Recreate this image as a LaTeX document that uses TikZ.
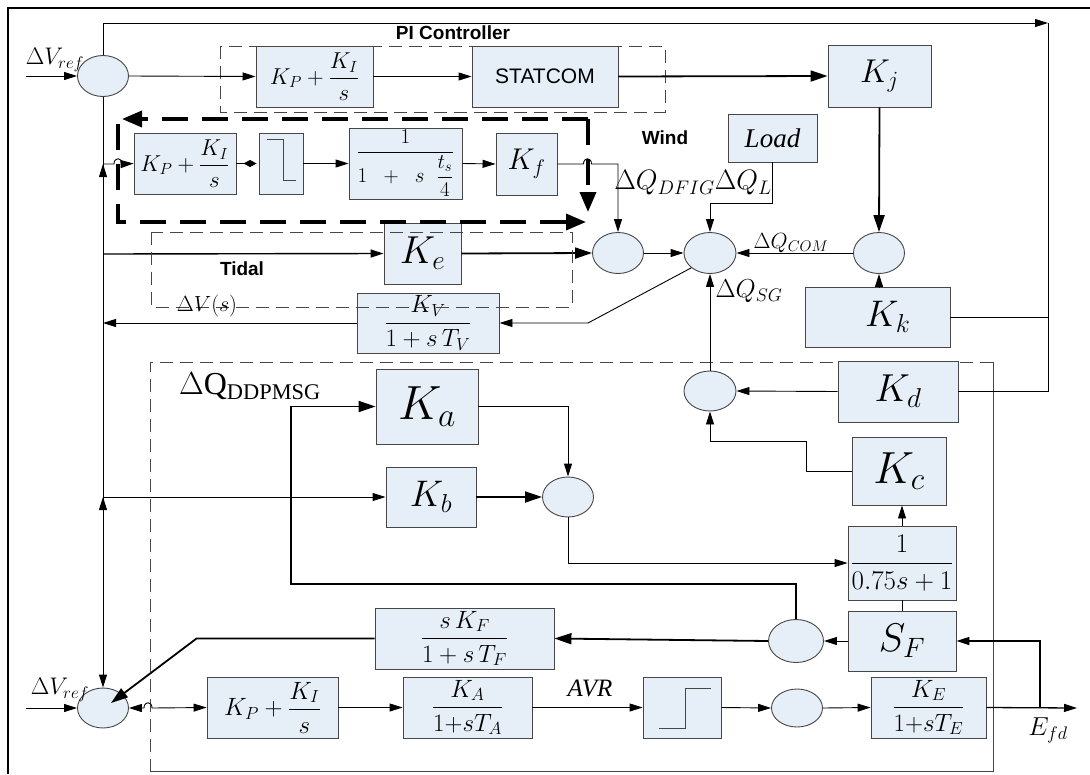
\RequirePackage{fix-cm}
\documentclass[tikz,border=0pt]{standalone}
\usepackage{amsmath}
\usepackage{fontspec}
\setmainfont{Liberation Serif}
\setsansfont{Liberation Sans}
\usetikzlibrary{arrows.meta,calc,shapes.geometric}
\definecolor{boxfill}{RGB}{230,238,247}
\definecolor{edge}{RGB}{70,70,70}
\newcommand\setfs[1]{\fontsize{#1}{#1}\selectfont}

\begin{document}
\begin{tikzpicture}[x=1pt,y=-1pt,
  blk/.style={draw=edge, fill=boxfill, line width=0.9pt, inner sep=0pt},
  sumc/.style={ellipse, draw=edge, fill=boxfill, line width=0.9pt,
    minimum width=51pt, minimum height=41pt, inner sep=0pt},
  arr/.style={-{Triangle[length=13pt,width=8pt]}, line width=0.9pt},
  tarr/.style={-{Triangle[length=17pt,width=11pt]}, line width=1.8pt},
  grpdash/.style={draw=edge, line width=0.9pt, dash pattern=on 13pt off 7pt},
  winddash/.style={line width=3.5pt, dash pattern=on 26pt off 14pt,
    -{Triangle[length=20pt,width=16pt]}},
  lbl/.style={inner sep=0pt},
  grplbl/.style={inner sep=0pt, font=\sffamily\bfseries\setfs{19}}]
  \useasboundingbox (0,0) rectangle (1090,774);
  \draw[line width=2.5pt] (8,774) -- (8,8) -- (1090,8);

  % PI controller / STATCOM row
  \draw[grpdash] (220,46) rectangle (665,112);
  \node[grplbl] (pilbl) at (453,33) {PI Controller};
  \node[sumc] (sumA) at (103,76) {};
  \node[lbl, font=\setfs{24}] (vrefA) at (55,60) {$\Delta V_{ref}$};
  \node[blk, minimum width=117pt, minimum height=61pt, font=\setfs{23}] (piA) at (314.5,76.5) {$K_P+\dfrac{K_I}{s}$};
  \node[blk, minimum width=146pt, minimum height=61pt, font=\sffamily\setfs{21}] (statcom) at (545,76.5) {STATCOM};
  \node[blk, minimum width=103pt, minimum height=62pt, font=\setfs{33}] (kj) at (879.5,76) {$K_j$};
  \coordinate (inA) at (26,76);
  \coordinate (railTR) at (1048,23);
  \draw[arr] (inA) -- (sumA.west);
  \draw[arr] (sumA.east) -- (piA.west);
  \draw[arr] (piA.east) -- (statcom.west);
  \draw[tarr] (statcom.east) -- (kj.west);
  \draw[arr] (sumA.north) |- (railTR);

  % wind branch
  \node[blk, minimum width=102pt, minimum height=61pt, font=\setfs{23}] (piW) at (185,163.5) {$K_P+\dfrac{K_I}{s}$};
  \node[blk, minimum width=44pt, minimum height=61pt] (stepW) at (281,163.5) {};
  \draw[line width=0.9pt, edge, shift={(stepW.center)}] (-14,-24) -- (2,-24) -- (2,17) -- (15,17);
  \node[blk, minimum width=113pt, minimum height=71pt, font=\setfs{21}] (lagW) at (405.5,163.5) {$\dfrac{1}{1\;\;+\;\;s\;\;\dfrac{t_s}{4}}$};
  \node[blk, minimum width=61pt, minimum height=62pt, font=\setfs{30}] (kf) at (526.5,164) {$K_f$};
  \node[grplbl] (windlbl) at (665,138) {Wind};
  \node[blk, minimum width=89pt, minimum height=48pt, font=\itshape\setfs{27}] (load) at (772.5,138) {Load};
  \draw[-{Diamond[length=13pt,width=7pt]}, line width=0.9pt, shorten >=2pt] (piW.east) -- (stepW.west);
  \draw[arr] (stepW.east) -- (lagW.west);
  \draw[arr] (lagW.east) -- (kf.west);

  % reactive power sums
  \node[sumc] (sumW) at (618,253) {};
  \node[sumc, minimum width=52pt] (sumQ) at (710,253) {};
  \node[sumc] (sumJ) at (879,253) {};
  \node[blk, minimum width=77pt, minimum height=61pt, font=\setfs{39}] (ke) at (422.5,253.5) {$K_e$};
  \node[blk, minimum width=142pt, minimum height=60pt, font=\setfs{25}] (kv) at (428,323) {$\dfrac{K_V}{1+s\,T_V}$};
  \node[blk, minimum width=145pt, minimum height=60pt, font=\setfs{37}] (kk) at (877.5,317) {$\;\;K_k$};
  \node[lbl, font=\setfs{28}] (dqdfig) at (693,183) {$\Delta Q_{DFIG}\Delta Q_L$};
  \node[lbl, font=\setfs{22}] (dqcom) at (791,243) {$\Delta Q_{COM}$};
  \node[lbl, font=\setfs{26}] (dqsg) at (749,291) {$\Delta Q_{SG}$};
  \coordinate (jW) at (103,164);
  \coordinate (jT) at (103,254);
  \coordinate (jV) at (103,323);
  \coordinate (jB) at (103,497);
  \draw[arr] (jW) -- (114,164) .. controls (114,157) and (122,157) .. (122,164) -- (piW.west);
  \draw[arr] (kf.east) -- (583.5,164) .. controls (583.5,157) and (591.5,157) .. (591.5,164) -- (618,164) -- (sumW.north);
  \draw[arr, line width=1.4pt] (jT) -- (ke.west);
  \draw[tarr] (ke.east) -- (sumW.west);
  \draw[arr] (sumW.east) -- (sumQ.west);
  \draw[arr] (load.south) -- ++(0,41) -| (sumQ.north);
  \draw[tarr] (kj.south) -- (sumJ.north);
  \draw[arr] (sumJ.west) -- (sumQ.east);
  \draw[arr] (kk.north -| sumJ.south) -- (sumJ.south);
  \draw[line width=0.9pt] (kk.east) -- (kk.east -| railTR);
  \draw[arr] (sumQ.south west) -- (588,323) -- (kv.east);
  \draw[arr] (kv.west) -- (jV);
  \draw[grpdash] (151,232) rectangle (572,307);
  \node[grplbl] (tidlbl) at (242,269) {Tidal};
  \node[lbl, font=\setfs{22}] (dvs) at (207,306) {$\Delta V(s)$};

  % DDPMSG block
  \draw[grpdash] (993,362) -- (150,362) -- (150,771);
  \draw[line width=0.9pt, edge] (993,362) -- (993,771) -- (150,771);
  \node[lbl, font=\setfs{32}] (dqdd) at (250,386) {$\Delta\mathrm{Q}_{\mathrm{DDPMSG}}$};
  \node[sumc, minimum width=52pt, minimum height=40pt] (sumD) at (710,391) {};
  \node[blk, minimum width=120pt, minimum height=61pt, font=\setfs{39}] (kd) at (898,391.5) {$K_d$};
  \node[blk, minimum width=102pt, minimum height=75pt, font=\setfs{48}] (ka) at (427,406.5) {$K_a$};
  \node[blk, minimum width=90pt, minimum height=60pt, font=\setfs{37}] (kb) at (431,497) {$K_b$};
  \node[sumc, minimum height=40pt] (sumB) at (568,497) {};
  \node[blk, minimum width=94pt, minimum height=68pt, font=\setfs{45}] (kc) at (899,471) {$K_c$};
  \node[blk, minimum width=108pt, minimum height=74pt, font=\setfs{27}] (lagC) at (902,563) {$\dfrac{1}{0.75s+1}$};
  \node[blk, minimum width=108pt, minimum height=60pt, font=\setfs{40}] (sf) at (902,641) {$S_F$};
  \node[sumc, minimum width=55pt, minimum height=43pt] (sumF) at (796,641) {};
  \node[blk, minimum width=179pt, minimum height=61pt, font=\setfs{25}] (skf) at (464.5,638.5) {$\dfrac{s\,K_F}{1+s\,T_F}$};
  \draw[arr] (kd.west) -- (sumD.east);
  \draw[line width=0.9pt] (kd.east) -| (railTR);
  \draw[arr] (sumD.north) -- (sumQ.south);
  \draw[arr] (kc.west) -| (806,441) -| (sumD.south);
  \draw[arr] (lagC.north) -- (lagC.north |- kc.south);
  \draw[line width=0.9pt] (sf.north) -- (lagC.south);
  \draw[arr] (sumB.south) |- (lagC.west);
  \draw[arr] (ka.east) -| (sumB.north);
  \draw[tarr] (kb.east) -- (sumB.west);
  \draw[arr] (jB) -- (kb.west);
  \draw[tarr] (sumF.north) |- (291,584) |- (ka.west);
  \draw[arr] (sf.west) -- (sumF.east);
  \draw[tarr] (sumF.west) -- (skf.east);

  % AVR loop
  \node[sumc, minimum height=40pt] (sumV) at (103,708) {};
  \node[lbl, font=\setfs{24}] (vrefB) at (60,690) {$\Delta V_{ref}$};
  \node[blk, minimum width=131pt, minimum height=61pt, font=\setfs{25}] (piB) at (272.5,707.5) {$K_P+\dfrac{K_I}{s}$};
  \node[blk, minimum width=129pt, minimum height=61pt, font=\setfs{25}] (ka2) at (467.5,707.5) {$\dfrac{K_A}{1{+}sT_A}$};
  \node[lbl, font=\itshape\setfs{25}] (avr) at (590,688) {AVR};
  \node[blk, minimum width=78pt, minimum height=61pt] (stepB) at (682,707.5) {};
  \draw[line width=0.9pt, edge, shift={(stepB.center)}] (-23,20.5) -- (3,20.5) -- (3,-19.5) -- (29,-19.5);
  \node[sumc, minimum height=38pt] (sumE) at (797,708) {};
  \node[blk, minimum width=115pt, minimum height=61pt, font=\setfs{25}] (ke2) at (928.5,707.5) {$\dfrac{K_E}{1{+}sT_E}$};
  \node[lbl, font=\setfs{26}] (efdlbl) at (1048,730) {$E_{fd}$};
  \coordinate (inB) at (26,708);
  \coordinate (efd) at (1077,708);
  \coordinate (tapE) at (1040,708);
  \draw[arr] (inB) -- (sumV.west);
  \draw[{Triangle[length=13pt,width=8pt]}-{Triangle[length=13pt,width=8pt]}, line width=0.9pt] (sumV.east) -- (144,708) .. controls (144,701) and (152,701) .. (152,708) -- (piB.west);
  \draw[arr] (piB.east) -- (ka2.west);
  \draw[arr] (ka2.east) -- (stepB.west);
  \draw[arr] (stepB.east) -- (sumE.west);
  \draw[arr] (sumE.east) -- (ke2.west);
  \draw[arr, line width=1.3pt] (ke2.east) -- (efd);
  \draw[arr, line width=1.6pt] (tapE) |- (sf.east);
  \draw[tarr] (skf.west) -- ++(-178,0) -- (111,703);

  % main vertical bus
  \draw[arr] (sumA.south) -- (sumV.north);
  \draw[arr] (103,176) -- (jW);
  \draw[arr] (103,509) -- (jB);

  % wind group outline
  \draw[winddash] (588,119) -- (122,119);
  \draw[winddash] (118,124) -- (118,222) -- (586,222);
  \draw[winddash] (588,119) -- (588,212);
\end{tikzpicture}
\end{document}
